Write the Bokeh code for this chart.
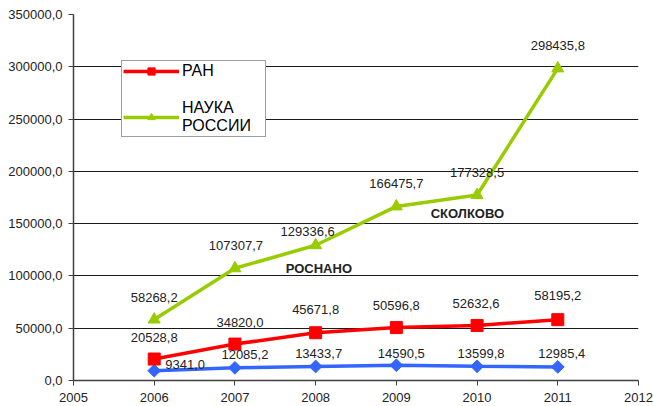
from bokeh.plotting import figure
from bokeh.models import (ColumnDataSource, LabelSet, Label, Legend, LegendItem,
                          FixedTicker, Range1d)
from bokeh.core.properties import value
from bokeh.embed import file_html
from bokeh.resources import INLINE

# ---- data ----
years = [2006, 2007, 2008, 2009, 2010, 2011]
other = [9341.0, 12085.2, 13433.7, 14590.5, 13599.8, 12985.4]
ran = [20528.8, 34820.0, 45671.8, 50596.8, 52632.6, 58195.2]
nauka = [58268.2, 107307.7, 129336.6, 166475.7, 177328.5, 298435.8]
x_ticks = [2005, 2006, 2007, 2008, 2009, 2010, 2011, 2012]
y_ticks = [0, 50000, 100000, 150000, 200000, 250000, 300000, 350000]
series_names = ["РАН", "НАУКА\nРОССИИ"]
notes = ["РОСНАНО", "СКОЛКОВО"]

# ---- label placement (screen px) ----
other_dx = [31, 10, 3, 5, 4, 4]
other_dy = [6, 13, 13, 12, 13, 13]
ran_dx = [0, 5, 0, 0, -1, 0]
ran_dy = [22, 22, 23, 22, 22, 24]
nauka_dx = [0, 1, -8, 0, 0, 0]
nauka_dy = [22, 23, 14, 23, 23, 23]


def fmt(v):
    return f"{v:.1f}".replace(".", ",")


FONT = "Liberation Sans"
BLUE = "#3366FF"
RED = "#FF0000"
GREEN = "#99CC00"
TXT = "#222222"

p = figure(width=653, height=406, output_backend="svg", toolbar_location=None,
           x_range=Range1d(2005, 2012), y_range=Range1d(0, 350000),
           min_border_left=73, min_border_right=15, min_border_top=14,
           min_border_bottom=26)
p.outline_line_color = None
p.background_fill_color = "white"

# axes
p.xaxis.ticker = FixedTicker(ticks=x_ticks)
p.yaxis.ticker = FixedTicker(ticks=y_ticks)
p.yaxis.major_label_overrides = {t: fmt(t) for t in y_ticks}
p.xaxis.major_label_overrides = {t: str(t) for t in x_ticks}
for ax in (p.xaxis[0], p.yaxis[0]):
    ax.axis_line_color = "#404040"
    ax.axis_line_width = 1.5
    ax.major_tick_line_color = "#404040"
    ax.major_tick_out = 5
    ax.major_tick_in = 0
    ax.minor_tick_line_color = None
    ax.major_label_text_font = FONT
    ax.major_label_text_font_size = "13px"
    ax.major_label_text_color = TXT
    ax.major_label_standoff = 6
p.xaxis.major_label_standoff = 7
p.xgrid.grid_line_color = None
p.ygrid.grid_line_color = "#1a1a1a"
p.ygrid.grid_line_width = 1

# series
def src(vals, dx, dy):
    return ColumnDataSource(dict(x=years, y=vals, t=[fmt(v) for v in vals],
                                 dx=dx, dy=dy))

s_o = src(other, other_dx, other_dy)
s_r = src(ran, ran_dx, ran_dy)
s_n = src(nauka, nauka_dx, nauka_dy)

p.line("x", "y", source=s_o, line_color=BLUE, line_width=3.5)
p.scatter("x", "y", source=s_o, marker="square", angle=0.785, size=9,
          fill_color=BLUE, line_color=BLUE)

r_line = p.line("x", "y", source=s_r, line_color=RED, line_width=3.5)
r_mark = p.scatter("x", "y", source=s_r, marker="square", size=12,
                   fill_color=RED, line_color=RED)

n_line = p.line("x", "y", source=s_n, line_color=GREEN, line_width=3.5)
n_mark = p.scatter("x", "y", source=s_n, marker="triangle", size=12,
                   fill_color=GREEN, line_color=GREEN)

for s in (s_o, s_r, s_n):
    p.add_layout(LabelSet(x="x", y="y", text="t", source=s,
                          x_offset="dx", y_offset="dy",
                          text_align="center", text_baseline="middle",
                          text_font=value(FONT), text_font_size="13px",
                          text_color=TXT))

# notes
p.add_layout(Label(x=2008.04, y=107100, text=notes[0], text_align="center",
                   text_baseline="middle", text_font=FONT,
                   text_font_size="13px", text_font_style="bold",
                   text_color=TXT))
p.add_layout(Label(x=2009.88, y=159700, text=notes[1], text_align="center",
                   text_baseline="middle", text_font=FONT,
                   text_font_size="13px", text_font_style="bold",
                   text_color=TXT))

legend = Legend(items=[LegendItem(label=series_names[0], renderers=[r_line, r_mark]),
                       LegendItem(label=series_names[1], renderers=[n_line, n_mark])],
                location=(48, 243), padding=1, spacing=19,
                glyph_width=56, glyph_height=18, label_standoff=3, label_width=82,
                label_height=18,
                label_text_font=FONT, label_text_font_size="16px",
                label_text_color="#000000",
                border_line_color="#404040", border_line_width=1,
                background_fill_color="white", background_fill_alpha=1.0)
p.add_layout(legend)

open("out.html", "w").write(file_html(p, INLINE))
